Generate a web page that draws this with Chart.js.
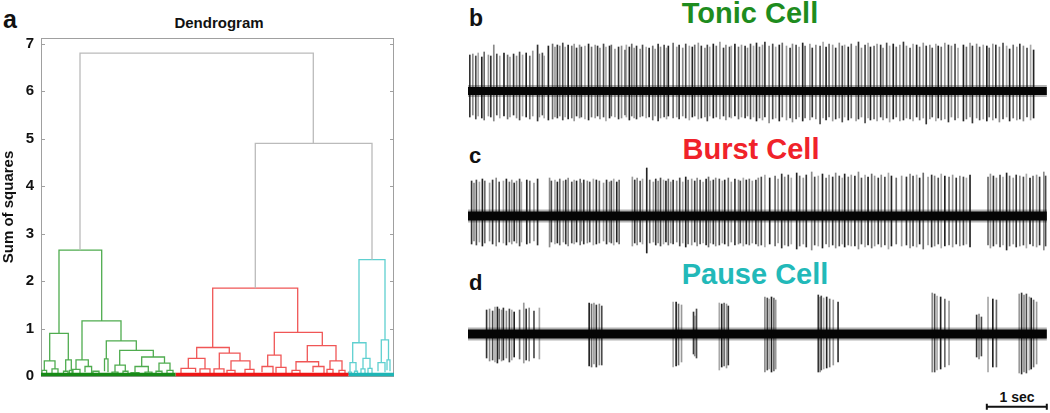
<!DOCTYPE html>
<html>
<head>
<meta charset="utf-8">
<script src="https://cdn.jsdelivr.net/npm/chart.js@4"></script>
<style>
body { margin: 0; width: 1050px; height: 413px; position: relative; background: #fff; overflow: hidden;
       font-family: "Liberation Sans", Arial, sans-serif; }
canvas { position: absolute; }
.t { position: absolute; font-weight: bold; white-space: nowrap; line-height: 1; }
.c { text-align: center; width: 300px; }
</style>
</head>
<body>
<div class="t" style="left:3px;top:7px;font-size:25px;color:#111">a</div>
<div class="t c" style="left:69px;top:15px;font-size:15px;color:#111">Dendrogram</div>
<div class="t" style="left:469px;top:7px;font-size:23px;color:#111">b</div>
<div class="t c" style="left:600px;top:-1px;font-size:29px;color:#1e8c1e">Tonic Cell</div>
<div class="t" style="left:469px;top:145px;font-size:22px;color:#111">c</div>
<div class="t c" style="left:601px;top:135px;font-size:29px;color:#f0222a">Burst Cell</div>
<div class="t" style="left:469px;top:272px;font-size:22px;color:#111">d</div>
<div class="t c" style="left:605px;top:260px;font-size:29px;color:#22b9b9">Pause Cell</div>
<div class="t c" style="left:867px;top:390px;font-size:14px;color:#111">1 sec</div>

<canvas id="dendro" width="410" height="413" style="left:0;top:0"></canvas>
<canvas id="tonic" width="580" height="95" style="left:468px;top:35px"></canvas>
<canvas id="burst" width="580" height="95" style="left:468px;top:165px"></canvas>
<canvas id="pause" width="580" height="128" style="left:468px;top:285px"></canvas>

<script>
// dendrogram: [left x, right x, merge height, left child height, right child height]
const yTicks = [0, 1, 2, 3, 4, 5, 6, 7];
const grayLinks = [
  [39, 272.3, 6.8, 2.65, 4.9],
  [214.3, 331, 4.9, 1.85, 2.45]
];
const greenLinks = [
  [18, 60.7, 2.65, 0.9, 1.16],
  [8.7, 27.3, 0.9, 0.32, 0.34],
  [41, 80, 1.16, 0.34, 0.74],
  [3.3, 14, 0.32, 0.12, 0.15],
  [1, 5.6, 0.12, 0.04, 0.06],
  [11, 17, 0.15, 0.05, 0.04],
  [24.7, 30.3, 0.34, 0.1, 0.12],
  [22.5, 27, 0.1, 0.03, 0.04],
  [28.5, 32, 0.12, 0.04, 0.03],
  [35, 47.3, 0.34, 0.14, 0.2],
  [31, 39, 0.14, 0.05, 0.04],
  [44, 50.6, 0.2, 0.08, 0.05],
  [52, 58, 0.1, 0.03, 0.04],
  [65.3, 95.3, 0.74, 0.36, 0.54],
  [63.5, 67, 0.36, 0.1, 0.08],
  [78.7, 112.3, 0.54, 0.23, 0.4],
  [74, 84.3, 0.23, 0.08, 0.1],
  [71, 77, 0.08, 0.03, 0.03],
  [82, 87, 0.1, 0.04, 0.03],
  [100.7, 123.5, 0.4, 0.2, 0.27],
  [94, 107.3, 0.2, 0.07, 0.08],
  [90, 98, 0.07, 0.02, 0.03],
  [104, 111, 0.08, 0.03, 0.02],
  [118, 129, 0.27, 0.1, 0.12],
  [115, 121, 0.1, 0.03, 0.04],
  [126, 132, 0.12, 0.04, 0.03]
];
const redLinks = [
  [171.7, 256.7, 1.85, 0.6, 0.92],
  [155.7, 188.3, 0.6, 0.37, 0.48],
  [147.3, 164, 0.37, 0.16, 0.15],
  [140, 154.6, 0.16, 0.06, 0.08],
  [159, 169, 0.15, 0.06, 0.05],
  [178.3, 199, 0.48, 0.15, 0.32],
  [173, 183, 0.15, 0.05, 0.07],
  [190, 209, 0.32, 0.12, 0.14],
  [186, 194, 0.12, 0.03, 0.05],
  [204, 213, 0.14, 0.05, 0.03],
  [233.3, 281.3, 0.92, 0.44, 0.64],
  [226.7, 240, 0.44, 0.2, 0.18],
  [221, 232, 0.2, 0.08, 0.06],
  [235, 245, 0.18, 0.07, 0.05],
  [266.3, 295, 0.64, 0.3, 0.32],
  [255, 277.6, 0.3, 0.12, 0.2],
  [251, 259, 0.12, 0.04, 0.05],
  [272, 283, 0.2, 0.08, 0.06],
  [289, 301, 0.32, 0.14, 0.12],
  [286, 292, 0.14, 0.03, 0.05],
  [298, 304, 0.12, 0.03, 0.04]
];
const cyanLinks = [
  [318, 344, 2.45, 0.7, 0.76],
  [311.7, 325, 0.7, 0.28, 0.37],
  [309, 315, 0.28, 0.08, 0.1],
  [307.5, 310.5, 0.08, 0.02, 0.03],
  [313.5, 316.5, 0.1, 0.03, 0.02],
  [322, 329, 0.37, 0.15, 0.16],
  [320, 324, 0.15, 0.05, 0.03],
  [327, 331, 0.16, 0.03, 0.06],
  [340.3, 347.5, 0.76, 0.28, 0.34],
  [337, 344, 0.28, 0.1, 0.08],
  [346, 349, 0.34, 0.12, 0.1]
];
// leaf band ranges along the bottom: [from, to]
const greenLeaves = [0, 134.5];
const redLeaves = [134.5, 307.5];
const cyanLeaves = [307.5, 353];
const leafLevel = 0.03;

// spike trains: spike times (s), peak above baseline, trough below baseline
const traceEnd = 9.65;
const tonicTimes = [
  0.03,0.08,0.13,0.17,0.23,0.27,0.34,0.38,0.43,0.48,0.53,0.60,0.66,0.70,0.76,0.81,0.86,0.91,0.97,1.03,
  1.08,1.16,1.19,1.24,1.27,1.34,1.41,1.45,1.49,1.53,1.58,1.62,1.67,1.73,1.77,1.81,1.86,1.89,1.95,2.01,
  2.06,2.12,2.16,2.20,2.26,2.30,2.36,2.39,2.45,2.51,2.56,2.62,2.64,2.69,2.73,2.77,2.81,2.87,2.91,2.97,
  3.02,3.08,3.12,3.17,3.21,3.27,3.31,3.34,3.42,3.48,3.52,3.58,3.63,3.69,3.74,3.78,3.84,3.89,3.95,3.99,
  4.03,4.09,4.14,4.20,4.26,4.30,4.36,4.39,4.45,4.51,4.56,4.62,4.66,4.71,4.76,4.81,4.86,
  4.91,4.95,5.02,5.08,5.13,5.19,5.24,5.31,5.37,5.41,5.47,5.52,5.58,5.62,5.70,5.74,5.80,5.87,5.92,5.97,
  6.02,6.08,6.13,6.19,6.24,6.28,6.34,6.39,6.47,6.51,6.56,6.62,6.67,6.71,6.77,6.82,6.88,6.92,6.98,7.03,
  7.09,7.14,7.20,7.26,7.31,7.37,7.42,7.48,7.53,7.59,7.64,7.70,7.74,7.80,7.84,7.89,7.95,8.01,8.06,8.12,
  8.17,8.26,8.31,8.37,8.41,8.48,8.53,8.59,8.65,8.69,8.75,8.80,8.86,8.92,8.98,9.03,9.09,9.15,9.20,9.26,
  9.32,9.38,9.43,9.49,9.58
];
const tonicPeak = [
  3.6,3.7,3.5,3.8,3.4,3.9,3.6,3.5,4.6,3.7,3.5,3.8,3.6,3.4,3.7,3.5,3.9,3.6,3.8,3.5,
  4.0,4.6,3.7,3.8,3.5,4.5,4.7,4.4,4.6,4.5,4.8,4.4,4.6,4.5,4.7,4.3,4.6,4.4,4.5,4.7,
  4.4,4.6,4.5,4.3,4.7,4.4,4.5,4.6,4.2,4.4,4.5,4.1,4.6,4.4,4.7,4.3,4.5,4.2,4.6,4.4,
  4.3,4.5,4.2,4.7,4.4,4.6,4.3,4.5,4.8,4.4,4.6,4.3,4.7,4.5,4.4,4.6,4.8,4.5,4.3,4.6,
  4.4,4.7,4.5,4.9,4.3,4.6,4.4,4.5,4.7,4.4,4.6,4.5,4.3,
  4.7,4.5,4.8,4.4,4.6,4.9,4.5,4.7,4.4,4.6,4.8,4.5,4.3,4.7,4.6,4.4,4.8,4.5,4.7,4.3,
  4.6,4.5,4.9,4.4,4.7,4.6,4.3,4.8,4.5,4.6,4.4,4.7,4.5,4.9,4.3,4.6,4.8,4.4,4.5,4.7,
  4.6,4.3,4.8,4.5,4.7,4.4,4.6,4.9,4.5,4.3,4.7,4.6,4.4,4.8,4.5,4.6,4.3,4.7,4.5,4.4,
  4.8,4.6,4.5,4.7,4.3,4.6,4.4,4.8,4.5,4.7,4.4,4.6,4.5,4.3,4.7,4.6,4.4,4.8,4.5,4.2,
  4.6,4.4,4.7,4.5,4.3,4.6,4.1
];
const tonicTrough = [
  2.6,2.4,2.8,2.5,2.7,2.9,2.5,2.6,3.0,2.4,2.7,2.5,2.8,2.6,2.4,2.7,2.9,2.5,2.6,2.8,
  2.5,3.0,2.6,2.4,2.7,2.9,2.8,2.6,2.7,2.5,2.9,2.6,2.8,2.7,3.0,2.5,2.7,2.6,2.8,2.9,
  2.6,2.7,2.5,2.8,2.6,3.0,2.7,2.5,2.6,2.8,2.7,2.4,2.6,2.9,2.5,2.7,2.8,2.6,2.5,2.7,
  2.6,2.9,2.5,3.0,2.7,2.6,2.8,2.5,2.7,2.6,2.8,2.5,2.7,2.9,2.6,2.5,2.8,2.7,2.6,3.0,
  2.5,2.7,2.6,2.8,2.5,2.9,2.6,2.7,2.5,2.8,2.6,2.7,2.5,
  2.8,2.6,3.0,2.7,2.9,2.6,3.2,2.8,2.7,3.0,2.6,2.9,2.7,3.1,2.8,2.6,3.0,2.7,2.9,2.6,
  2.8,3.3,2.7,2.9,2.6,3.0,2.8,2.7,3.1,2.6,2.9,2.7,3.0,2.8,2.6,3.2,2.7,2.9,2.8,3.0,
  2.6,2.9,2.7,3.1,2.8,2.6,3.0,2.9,2.7,2.8,3.0,2.6,2.9,2.7,3.3,2.8,2.6,3.0,2.7,2.9,
  2.8,3.1,2.6,2.9,2.7,3.0,2.8,2.6,3.2,2.7,2.9,2.8,3.0,2.6,2.9,2.7,3.1,2.8,2.6,3.0,
  2.7,2.9,2.8,3.0,2.6,2.9,2.7
];

const burstTimes = [
  0.06,0.10,0.14,0.19,0.24,0.28,0.36,0.41,0.47,0.52,0.59,0.64,0.69,0.73,0.77,0.81,0.86,0.89,0.98,1.03,
  1.10,1.16,1.36,1.39,1.45,1.49,1.53,1.59,1.63,1.67,1.73,1.77,1.81,1.87,1.89,1.93,1.99,2.03,2.09,2.14,
  2.19,2.26,2.31,2.36,2.39,2.43,2.48,2.52,2.74,2.78,2.82,2.87,2.91,2.98,3.03,3.09,3.13,3.17,3.21,3.26,
  3.30,3.34,3.38,3.42,3.48,3.53,3.58,3.63,3.67,3.73,3.78,3.82,3.87,3.92,3.97,4.01,4.04,4.09,4.13,4.19,
  4.24,4.28,4.34,4.39,4.45,4.51,4.54,4.59,4.64,4.69,4.74,4.80,4.84,
  4.89,4.95,5.03,5.12,5.17,5.23,5.28,5.34,5.39,5.48,5.53,5.59,5.64,5.73,5.78,5.84,5.91,5.97,6.02,6.08,
  6.13,6.19,6.24,6.28,6.34,6.39,6.45,6.51,6.56,6.62,6.67,6.73,6.78,6.84,6.89,6.95,7.01,7.06,7.14,7.23,
  7.31,7.37,7.42,7.48,7.53,7.59,7.67,7.73,7.78,7.84,7.89,7.95,8.02,8.08,8.14,8.20,8.26,8.31,8.37,8.67,
  8.71,8.76,8.81,8.87,8.92,8.98,9.03,9.09,9.14,9.20,9.26,9.31,9.37,9.42,9.48,9.53,9.60,9.63
];
const burstPeak = [
  3.5,3.3,3.6,3.4,3.7,3.5,3.3,3.6,3.8,3.4,3.5,3.7,3.4,3.6,3.3,3.5,3.7,3.4,3.6,3.5,
  3.3,3.7,3.8,3.5,3.6,3.4,3.7,3.5,3.6,3.8,3.4,3.6,3.5,3.7,3.3,3.6,3.5,3.4,3.7,3.6,
  3.5,3.3,3.6,3.4,3.5,3.7,3.4,3.6,3.9,3.6,3.8,3.5,3.7,4.8,3.6,3.4,3.7,3.5,3.8,3.6,
  3.5,3.7,3.4,3.6,3.5,3.8,3.4,3.9,3.6,3.7,3.5,3.8,3.6,3.4,3.7,3.9,3.5,3.6,3.8,3.7,
  3.5,3.6,3.8,3.4,3.7,3.6,3.5,3.8,3.6,3.7,3.5,3.6,3.8,
  3.9,4.1,3.8,4.0,3.7,4.2,3.9,4.1,3.8,4.3,4.0,3.8,4.1,4.4,3.9,4.0,4.2,3.8,4.1,3.9,
  4.3,4.0,3.8,4.2,3.9,4.1,4.0,4.4,3.8,4.1,3.9,4.2,4.0,3.8,4.1,3.9,4.3,4.0,3.8,4.0,
  3.9,4.2,4.0,4.1,3.8,4.3,3.9,4.1,4.0,3.8,4.2,4.0,3.9,4.1,3.8,4.0,3.9,3.8,4.1,3.9,
  4.2,4.0,3.8,4.1,3.9,4.3,4.0,3.8,4.1,4.0,3.9,4.2,3.8,4.0,4.1,3.9,4.4,4.0
];
const burstTrough = [
  2.8,2.5,2.9,2.6,3.0,2.7,2.5,2.8,3.0,2.6,2.7,2.9,2.6,2.8,2.5,2.7,3.0,2.6,2.8,2.7,
  2.5,2.9,3.1,2.6,2.8,2.7,2.9,2.6,2.8,3.0,2.7,2.8,2.6,2.9,2.5,2.8,2.7,2.6,2.9,2.8,
  2.7,2.5,2.8,2.6,2.7,2.9,2.6,2.8,3.0,2.7,2.9,2.6,2.8,3.7,2.7,2.6,2.9,2.7,3.0,2.8,
  2.6,2.9,2.7,2.8,2.6,3.0,2.7,3.1,2.8,2.9,2.6,3.0,2.8,2.7,2.9,3.1,2.7,2.8,3.0,2.9,
  2.7,2.8,3.0,2.6,2.9,2.8,2.7,3.0,2.8,2.9,2.7,2.8,3.0,
  2.9,3.1,2.8,3.0,2.7,3.2,2.9,3.0,2.8,3.3,3.0,2.8,3.1,3.4,2.9,3.0,3.2,2.8,3.1,2.9,
  3.2,3.0,2.8,3.1,2.9,3.0,3.0,3.3,2.8,3.1,2.9,3.2,3.0,2.8,3.1,2.9,3.3,3.0,2.8,3.0,
  2.9,3.2,3.0,3.1,2.8,3.3,2.9,3.1,3.0,2.8,3.2,3.0,2.9,3.1,2.8,3.0,2.9,2.8,3.1,2.9,
  3.2,3.0,2.8,3.1,2.9,3.4,3.0,2.8,3.1,3.0,2.9,3.2,2.8,3.0,3.1,2.9,3.4,3.0
];

const pauseTimes = [
  0.31,0.36,0.41,0.45,0.49,0.52,0.56,0.59,0.64,0.69,0.73,0.77,0.86,0.93,0.97,1.02,1.10,1.19,
  2.02,2.06,2.10,2.14,2.19,2.23,
  3.42,3.47,3.51,3.56,3.76,3.78,3.81,
  4.19,4.23,4.27,4.31,4.34,
  4.95,4.99,5.02,5.06,5.10,5.13,
  5.84,5.87,5.89,5.93,5.98,6.03,6.09,6.17,
  7.74,7.78,7.82,7.88,7.95,8.02,
  8.48,8.52,8.56,8.67,8.75,8.81,
  9.19,9.23,9.27,9.31,9.36,9.39,9.43,9.48
];
const pausePeak = [
  2.4,2.5,2.3,2.7,2.7,2.5,2.4,2.6,2.3,2.5,2.4,2.2,2.4,3.1,2.5,2.6,2.3,2.6,
  3.1,3.0,3.1,2.9,3.0,2.8,
  3.2,3.2,3.0,2.9,2.2,1.8,2.5,
  3.1,3.0,3.1,3.0,2.8,
  3.7,3.6,3.5,3.7,3.6,3.4,
  3.9,3.7,3.8,3.6,3.7,3.5,3.4,3.2,
  4.1,4.0,3.8,3.7,3.5,3.3,
  1.9,2.0,1.7,3.7,3.5,3.4,
  4.0,4.1,3.9,4.0,3.7,3.6,3.4,3.2
];
const pauseTrough = [
  2.4,2.7,2.6,2.8,2.9,2.5,2.7,2.6,2.4,2.8,2.6,2.3,2.5,2.9,2.6,2.7,2.4,2.5,
  3.2,3.3,3.0,3.3,3.1,3.1,
  3.3,3.2,3.1,2.8,2.0,2.2,2.4,
  3.6,3.3,3.2,3.4,3.1,
  3.8,3.6,3.5,3.8,3.7,3.5,
  3.8,3.8,3.6,3.5,3.4,3.3,3.1,2.8,
  3.8,3.8,3.6,3.5,3.3,3.1,
  2.3,2.5,2.2,3.8,3.3,3.3,
  3.9,4.0,3.8,3.9,3.6,3.5,3.3,3.0
];
// scale bar: starts at 8.65 s, 1 s long
const scaleBarStart = 8.65;
const scaleBarLength = 1;

// ---------- dendrogram ----------
function linkPoints(links) {
  const pts = [];
  links.forEach(l => {
    pts.push({x: l[0], y: l[3]}, {x: l[0], y: l[2]}, {x: l[1], y: l[2]}, {x: l[1], y: l[4]}, {x: l[1], y: null});
  });
  return pts;
}
function linkSet(links, color) {
  return { data: linkPoints(links), borderColor: color, borderWidth: 1.3, pointRadius: 0, spanGaps: false, tension: 0 };
}
function leafSet(range, color) {
  return { data: [{x: range[0], y: leafLevel}, {x: range[1], y: leafLevel}], borderColor: color,
           borderWidth: 3.5, pointRadius: 0, clip: 6 };
}

const framePlugin = {
  id: 'frame',
  beforeDatasetsDraw(chart) {
    const { ctx, chartArea: a, scales: { y } } = chart;
    ctx.save();
    ctx.strokeStyle = '#a0a0a0';
    ctx.lineWidth = 1;
    ctx.strokeRect(Math.round(a.left) + 0.5, Math.round(a.top) + 0.5, Math.round(a.right - a.left) - 1, Math.round(a.bottom - a.top));
    ctx.beginPath();
    yTicks.forEach(v => {
      const py = Math.round(y.getPixelForValue(v)) + 0.5;
      ctx.moveTo(a.left, py); ctx.lineTo(a.left + 4, py);
      ctx.moveTo(a.right - 4, py); ctx.lineTo(a.right, py);
    });
    ctx.stroke();
    ctx.restore();
  }
};

new Chart(document.getElementById('dendro'), {
  type: 'line',
  data: {
    datasets: [
      leafSet(greenLeaves, '#178a17'),
      leafSet(redLeaves, '#ee1616'),
      leafSet(cyanLeaves, '#1fb5b5'),
      linkSet(grayLinks, '#bbbbbb'),
      linkSet(greenLinks, '#4fac4f'),
      linkSet(redLinks, '#f05656'),
      linkSet(cyanLinks, '#5fd0d0')
    ]
  },
  options: {
    responsive: false,
    animation: false,
    layout: { padding: { top: 38, right: 16, bottom: 37, left: 0 } },
    plugins: { legend: { display: false }, tooltip: { enabled: false } },
    scales: {
      x: { type: 'linear', min: 0, max: 353, display: false },
      y: {
        min: 0, max: 7.12,
        afterBuildTicks: s => { s.ticks = yTicks.map(v => ({ value: v })); },
        afterFit: s => { s.width = 41; },
        grid: { display: false, drawTicks: false },
        border: { display: false },
        ticks: { color: '#111', padding: 7, font: { size: 15, weight: 'bold', family: 'Liberation Sans' } },
        title: { display: true, text: 'Sum of squares', color: '#111', padding: { top: 0, bottom: 0 },
                 font: { size: 15, weight: 'bold', family: 'Liberation Sans' } }
      }
    }
  },
  plugins: [framePlugin]
});

// ---------- spike traces ----------
const spikeShades = ['#333', '#8a8a8a', '#4a4a4a', '#a8a8a8', '#222', '#6a6a6a', '#999'];

function traceChart(id, times, peak, trough, yMin, yMax, bandWidth, extra) {
  const datasets = [
    { type: 'line', data: [{x: 0, y: 0}, {x: traceEnd, y: 0}], borderColor: '#050505',
      borderWidth: bandWidth, pointRadius: 0 },
    { type: 'line', data: [{x: 0, y: 0}, {x: traceEnd, y: 0}], borderColor: 'rgba(0,0,0,0.3)',
      borderWidth: bandWidth + 4, pointRadius: 0 },
    { type: 'bar', data: times.map((t, i) => ({ x: t, y: [-trough[i], peak[i]] })),
      backgroundColor: c => spikeShades[c.dataIndex % spikeShades.length],
      barThickness: 1, grouped: false }
  ];
  if (extra) datasets.push(extra);
  new Chart(document.getElementById(id), {
    type: 'bar',
    data: { datasets },
    options: {
      responsive: false,
      animation: false,
      layout: { padding: 0 },
      plugins: { legend: { display: false }, tooltip: { enabled: false } },
      scales: {
        x: { type: 'linear', min: 0, max: 9.67, offset: false, display: false },
        y: { min: yMin, max: yMax, display: false }
      }
    }
  });
}

traceChart('tonic', tonicTimes, tonicPeak, tonicTrough, -3.9, 5.6, 8);
traceChart('burst', burstTimes, burstPeak, burstTrough, -4.4, 5.1, 9);

const barY = -7.27;
traceChart('pause', pauseTimes, pausePeak, pauseTrough, -7.9, 4.9, 9, {
  type: 'line',
  data: [
    {x: scaleBarStart, y: barY + 0.3}, {x: scaleBarStart, y: barY - 0.3}, {x: scaleBarStart, y: barY},
    {x: scaleBarStart + scaleBarLength, y: barY}, {x: scaleBarStart + scaleBarLength, y: barY + 0.3},
    {x: scaleBarStart + scaleBarLength, y: barY - 0.3}
  ],
  borderColor: '#111', borderWidth: 2, pointRadius: 0, clip: 4
});
</script>
</body>
</html>
